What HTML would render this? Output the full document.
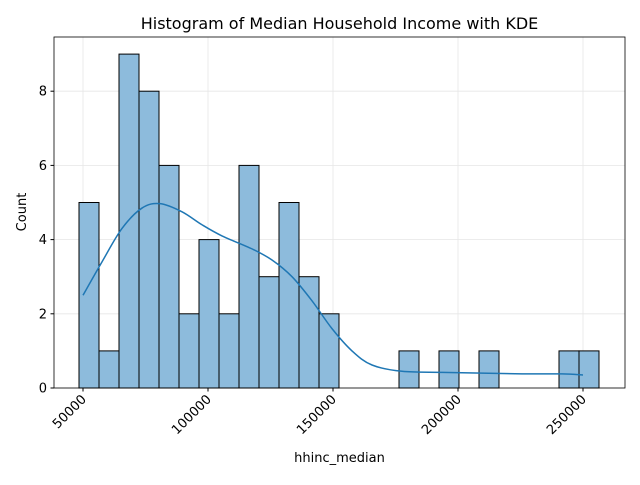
<!DOCTYPE html>
<html><head><meta charset="utf-8"><style>
body{margin:0;background:#fff;font-family:"Liberation Sans","DejaVu Sans",sans-serif;}
svg text{font-family:"DejaVu Sans","Liberation Sans",sans-serif;}
</style></head><body>
<svg id="c" width="640" height="480"></svg>
<script>
const binStart = 48400, binWidth = 8000;
const counts = [5,1,9,8,6,2,4,2,6,3,5,3,2,0,0,0,1,0,1,0,1,0,0,0,1,1];
const kdeX = [50000,57600,65600,73600,80800,89600,97600,105600,117600,125600,133600,141600,149600,157600,165600,177600,193600,209600,225600,241600,250000];
const kdeY = [2.5,3.4,4.3,4.85,4.97,4.75,4.4,4.1,3.75,3.45,3.0,2.35,1.6,1.0,0.62,0.45,0.42,0.4,0.38,0.38,0.35];
const xTicks = [50000,100000,150000,200000,250000];
const yTicks = [0,2,4,6,8];
const L=54,R=625,T=37,B=388;
const sx=v=>83+(v-50000)/400;
const sy=v=>B-v*37.1;
const svg=document.getElementById('c');
const NS='http://www.w3.org/2000/svg';
function mk(t,a,p){const e=document.createElementNS(NS,t);for(const k in a)e.setAttribute(k,a[k]);(p||svg).appendChild(e);return e;}
yTicks.forEach(v=>{const g=mk('line',{x1:L,x2:R,y1:sy(v),y2:sy(v),stroke:'#e6e6e6','stroke-width':0.8});

});
xTicks.forEach(v=>{const g=mk('line',{x1:sx(v),x2:sx(v),y1:T,y2:B,stroke:'#e6e6e6','stroke-width':0.8});

});
counts.forEach((c,i)=>{if(!c)return;const x0=sx(binStart+i*binWidth),x1=sx(binStart+(i+1)*binWidth);
const r=mk('rect',{x:x0,y:sy(c),width:x1-x0,height:B-sy(c),fill:'#8dbbdc',stroke:'#000','stroke-width':1});

});
// smooth kde via catmull-rom
const P=kdeX.map((x,i)=>[sx(x),sy(kdeY[i])]);
let d='M'+P[0][0]+','+P[0][1];
for(let i=0;i<P.length-1;i++){const p0=P[Math.max(0,i-1)],p1=P[i],p2=P[i+1],p3=P[Math.min(P.length-1,i+2)];
d+=' C'+(p1[0]+(p2[0]-p0[0])/6)+','+(p1[1]+(p2[1]-p0[1])/6)+' '+(p2[0]-(p3[0]-p1[0])/6)+','+(p2[1]-(p3[1]-p1[1])/6)+' '+p2[0]+','+p2[1];}
const pl=mk('path',{d:d,fill:'none',stroke:'#1f77b4','stroke-width':1.5});


const f=mk('rect',{x:L,y:T,width:R-L,height:B-T,fill:'none',stroke:'#000','stroke-width':0.8});


yTicks.forEach(v=>{mk('line',{x1:L-3.5,x2:L,y1:sy(v),y2:sy(v),stroke:'#000'});
const t=mk('text',{x:L-7,y:sy(v)+4.5,'text-anchor':'end','font-size':13});t.textContent=v;

});
xTicks.forEach(v=>{mk('line',{x1:sx(v),x2:sx(v),y1:B,y2:B+3.5,stroke:'#000'});
const t=mk('text',{x:sx(v)+4,y:B+12,'text-anchor':'end','font-size':13,transform:`rotate(-45 ${sx(v)+4} ${B+12})`});t.textContent=v;

});
const tt=mk('text',{x:339.5,y:29,'text-anchor':'middle','font-size':16});tt.textContent='Histogram of Median Household Income with KDE';


const xl=mk('text',{x:339.5,y:462,'text-anchor':'middle','font-size':13});xl.textContent='hhinc_median';


const yl=mk('text',{x:26,y:212,'text-anchor':'middle','font-size':13,transform:'rotate(-90 26 212)'});yl.textContent='Count';


</script>
</body></html>
